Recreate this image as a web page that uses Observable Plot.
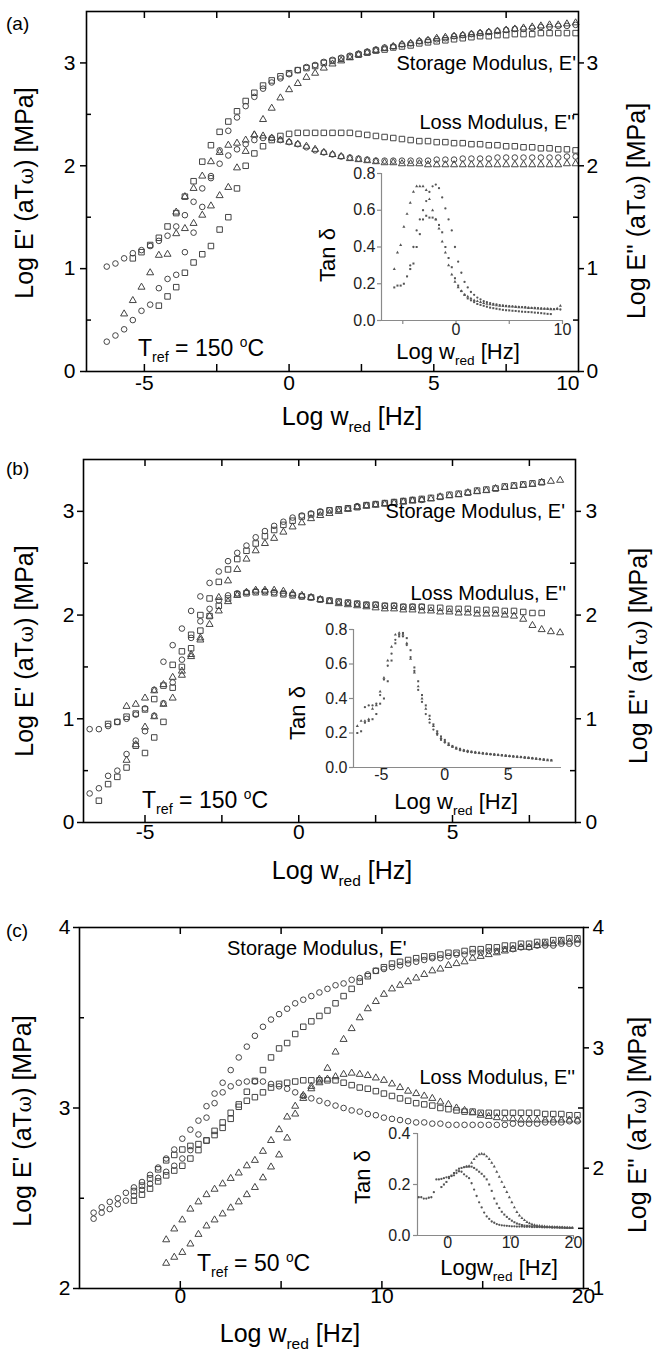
<!DOCTYPE html>
<html><head><meta charset="utf-8">
<script src="https://cdn.jsdelivr.net/npm/d3@7"></script>
<script src="https://cdn.jsdelivr.net/npm/@observablehq/plot@0.6"></script>
<style>
body{margin:0;background:#fff;}
#root{position:relative;width:653px;height:1356px;overflow:hidden;background:#fff;}
#root svg{position:absolute;left:0;}
.t{position:absolute;white-space:nowrap;line-height:1;color:#000;font-family:'Liberation Sans',Arial,Helvetica,sans-serif;}
.sub{font-size:0.62em;position:relative;top:0.42em;}
.sup{font-size:0.6em;position:relative;top:-0.62em;}
.om{font-family:'DejaVu Serif','Liberation Serif',serif;font-size:0.8em;}
</style></head>
<body><div id="root"></div>
<script>
// ---------------- DATA ----------------
// Panel (a): reduced frequency grid (log w_red, Hz) and log modulus series
const aFreq = [-6.3,-6.0,-5.7,-5.4,-5.1,-4.8,-4.5,-4.2,-3.9,-3.6,-3.3,-3.0,-2.7,-2.4,-2.1,-1.8,-1.5,-1.2,-0.9,-0.6,-0.3,0.0,0.3,0.6,0.9,1.2,1.5,1.8,2.1,2.4,2.7,3.0,3.3,3.6,3.9,4.2,4.5,4.8,5.1,5.4,5.7,6.0,6.3,6.6,6.9,7.2,7.5,7.8,8.1,8.4,8.7,9.0,9.3,9.6,9.9];
const aCircleStorage = [0.29,0.35,0.41,0.50,0.59,0.65,0.81,0.90,0.94,1.16,1.35,1.60,1.88,2.15,2.34,2.47,2.58,2.67,2.75,2.81,2.85,2.89,2.93,2.96,2.98,3.01,3.03,3.05,3.07,3.09,3.11,3.13,3.15,3.16,3.18,3.19,3.21,3.22,3.23,3.24,3.26,3.27,3.28,3.29,3.30,3.31,3.32,3.33,3.33,3.34,3.35,3.35,3.36,3.36,3.37];
const aCircleLoss = [1.02,1.05,1.10,1.15,1.18,1.22,1.27,1.32,1.41,1.52,1.65,1.78,1.90,2.02,2.10,2.16,2.21,2.25,2.27,2.27,2.25,2.23,2.21,2.18,2.15,2.13,2.11,2.09,2.08,2.07,2.06,2.05,2.05,2.05,2.05,2.05,2.05,2.05,2.06,2.06,2.06,2.07,2.07,2.07,2.07,2.08,2.08,2.08,2.08,2.08,2.08,2.08,2.08,2.09,2.09];
const aSquareStorage = [null,null,null,1.10,1.16,1.23,1.30,1.41,1.54,1.70,1.85,2.04,2.20,2.33,2.43,2.53,2.63,2.71,2.78,2.83,2.87,2.90,2.93,2.95,2.97,3.00,3.02,3.04,3.06,3.08,3.10,3.12,3.13,3.15,3.16,3.17,3.19,3.20,3.21,3.22,3.23,3.24,3.25,3.26,3.26,3.27,3.27,3.28,3.28,3.28,3.29,3.29,3.29,3.29,3.29];
const aSquareLoss = [null,null,null,null,null,null,0.64,0.73,0.82,0.96,1.06,1.14,1.22,1.38,1.50,1.78,2.00,2.12,2.19,2.25,2.29,2.31,2.32,2.32,2.32,2.32,2.32,2.32,2.32,2.31,2.30,2.29,2.28,2.27,2.26,2.25,2.24,2.24,2.23,2.23,2.22,2.22,2.21,2.21,2.20,2.20,2.19,2.19,2.18,2.18,2.17,2.17,2.16,2.16,2.15];
const aTriangleStorage = [null,null,0.56,0.69,0.82,0.96,1.13,1.14,1.34,1.39,1.44,1.52,1.61,1.71,1.79,1.98,2.14,2.30,2.45,2.56,2.66,2.74,2.80,2.86,2.90,2.95,2.99,3.02,3.05,3.08,3.10,3.12,3.14,3.16,3.18,3.19,3.21,3.22,3.24,3.25,3.26,3.27,3.28,3.29,3.30,3.31,3.32,3.33,3.34,3.35,3.36,3.37,3.37,3.38,3.39];
const aTriangleLoss = [null,null,null,null,null,null,null,null,1.55,1.70,1.78,1.90,2.04,2.13,2.20,2.22,2.25,2.30,2.29,2.27,2.25,2.23,2.21,2.19,2.16,2.13,2.11,2.09,2.07,2.06,2.05,2.04,2.03,2.03,2.02,2.02,2.02,2.01,2.01,2.01,2.01,2.01,2.01,2.01,2.01,2.01,2.01,2.01,2.01,2.01,2.01,2.01,2.01,2.02,2.02];
// Panel (a) inset: tan delta
const aInsetFreq = [-5.8,-5.5,-5.2,-4.9,-4.6,-4.3,-4.0,-3.7,-3.4,-3.1,-2.8,-2.5,-2.2,-1.9,-1.6,-1.3,-1.0,-0.7,-0.4,-0.1,0.2,0.5,0.8,1.1,1.4,1.7,2.0,2.3,2.6,2.9,3.2,3.5,3.8,4.1,4.4,4.7,5.0,5.3,5.6,5.9,6.2,6.5,6.8,7.1,7.4,7.7,8.0,8.3,8.6,8.9,9.2,9.5,9.8];
const aTanTriangle = [0.28,0.37,0.41,0.51,0.58,0.64,0.70,0.73,0.73,0.73,0.71,0.66,0.60,0.55,0.50,0.43,0.37,0.30,0.25,0.21,0.18,0.16,0.14,0.13,0.12,0.11,0.105,0.10,0.095,0.09,0.088,0.085,0.082,0.08,0.078,0.077,0.076,0.075,0.073,0.072,0.071,0.07,0.068,0.067,0.066,0.065,0.064,0.063,0.062,0.061,0.06,0.065,0.08];
const aTanSquare = [0.18,0.19,0.19,0.20,0.24,0.28,0.31,0.40,0.47,0.55,0.57,0.56,0.56,0.55,0.52,0.48,0.40,0.34,0.29,0.23,0.19,0.16,0.14,0.12,0.11,0.10,0.09,0.085,0.08,0.075,0.07,0.067,0.064,0.061,0.058,0.056,0.055,0.053,0.052,0.05,0.048,0.047,0.046,0.045,0.043,0.042,0.04,0.038,0.036,0.035,null,null,null];
const aTanCircle = [null,null,null,null,null,0.30,0.40,0.49,0.55,0.60,0.65,0.70,0.73,0.74,0.72,0.67,0.61,0.55,0.49,0.40,0.32,0.26,0.21,0.18,0.155,0.14,0.125,0.115,0.105,0.10,0.095,0.09,0.087,0.084,0.082,0.08,0.078,0.077,0.075,0.074,0.073,0.072,0.07,0.069,0.068,0.067,0.066,0.065,0.064,0.063,0.062,0.062,0.06];

// Panel (b)
const bFreq = [-6.8,-6.5,-6.2,-5.9,-5.6,-5.3,-5.0,-4.7,-4.4,-4.1,-3.8,-3.5,-3.2,-2.9,-2.6,-2.3,-2.0,-1.7,-1.4,-1.1,-0.8,-0.5,-0.2,0.1,0.4,0.7,1.0,1.3,1.6,1.9,2.2,2.5,2.8,3.1,3.4,3.7,4.0,4.3,4.6,4.9,5.2,5.5,5.8,6.1,6.4,6.7,7.0,7.3,7.6,7.9,8.2,8.5];
const bCircleStorage = [0.90,0.90,0.93,0.97,1.00,1.04,1.10,1.28,1.55,1.71,1.87,2.04,2.18,2.31,2.42,2.52,2.60,2.67,2.75,2.81,2.86,2.90,2.94,2.96,2.98,3.00,3.01,3.02,3.03,3.05,3.06,3.07,3.08,3.09,3.10,3.11,3.11,null,null,null,null,null,null,null,null,null,null,null,null,null,null,null];
const bCircleLoss = [0.28,0.33,0.45,0.50,0.66,0.79,0.88,1.03,1.15,1.35,1.57,1.78,1.94,2.06,2.14,2.19,2.21,2.22,2.23,2.23,2.22,2.21,2.20,2.18,2.17,2.15,2.14,2.13,2.12,2.11,2.10,2.10,2.09,2.09,2.08,2.08,2.08,null,null,null,null,null,null,null,null,null,null,null,null,null,null,null];
const bSquareStorage = [null,null,0.95,0.97,1.02,1.05,1.09,1.19,1.32,1.52,1.65,1.81,2.00,2.16,2.32,2.44,2.54,2.62,2.69,2.76,2.82,2.87,2.91,2.95,2.97,2.99,3.01,3.02,3.03,3.04,3.06,3.07,3.08,3.09,3.10,3.11,3.12,3.13,3.14,3.16,3.17,3.18,3.20,3.21,3.22,3.24,3.25,3.26,3.27,3.28,null,null];
const bSquareLoss = [null,0.21,0.37,0.44,0.53,0.74,0.67,0.82,0.97,1.30,1.50,1.68,1.85,1.99,2.09,2.16,2.20,2.21,2.22,2.22,2.21,2.20,2.19,2.18,2.17,2.15,2.14,2.13,2.12,2.11,2.10,2.10,2.09,2.09,2.08,2.08,2.08,2.07,2.07,2.06,2.06,2.06,2.05,2.05,2.05,2.04,2.04,2.03,2.02,2.02,null,null];
const bTriangleStorage = [null,null,null,null,1.12,1.14,1.20,1.27,1.33,1.40,1.46,1.62,1.78,1.99,2.17,2.33,2.44,2.54,2.62,2.69,2.74,2.80,2.85,2.89,2.93,2.96,2.98,3.00,3.02,3.04,3.05,3.06,3.07,3.08,3.09,3.10,3.11,3.12,3.14,3.15,3.16,3.18,3.19,3.20,3.22,3.23,3.24,3.25,3.26,3.28,3.29,3.30];
const bTriangleLoss = [null,null,null,null,0.60,0.75,0.92,1.02,1.14,1.20,1.42,1.60,1.76,1.91,2.04,2.13,2.19,2.22,2.24,2.24,2.24,2.23,2.21,2.19,2.17,2.15,2.13,2.11,2.10,2.09,2.08,2.07,2.06,2.06,2.05,2.05,2.04,2.04,2.03,2.03,2.02,2.02,2.01,2.01,2.01,2.00,1.99,1.96,1.90,1.86,1.84,1.83];
const bInsetFreq = [-6.9,-6.6,-6.3,-6.0,-5.7,-5.4,-5.1,-4.8,-4.5,-4.2,-3.9,-3.6,-3.3,-3.0,-2.7,-2.4,-2.1,-1.8,-1.5,-1.2,-0.9,-0.6,-0.3,0.0,0.3,0.6,0.9,1.2,1.5,1.8,2.1,2.4,2.7,3.0,3.3,3.6,3.9,4.2,4.5,4.8,5.1,5.4,5.7,6.0,6.3,6.6,6.9,7.2,7.5,7.8,8.1,8.4];
const bTanTriangle = [0.24,0.27,0.27,0.28,0.34,0.36,0.44,0.52,0.62,0.70,0.77,0.78,0.77,0.72,0.63,0.55,0.47,0.40,0.34,0.28,0.24,0.20,0.17,0.15,0.13,0.12,0.11,0.105,0.10,0.095,0.09,0.088,0.085,0.082,0.08,0.077,0.075,0.072,0.07,0.068,0.066,0.064,0.062,0.06,0.058,0.055,0.053,0.05,0.048,0.045,0.042,0.04];
const bTanSquare = [0.20,0.21,0.26,0.27,0.28,0.31,0.37,0.40,0.50,0.62,0.72,0.76,0.78,0.75,0.68,0.58,0.50,0.42,0.36,0.30,0.25,0.21,0.18,0.16,0.14,0.125,0.115,0.108,0.10,0.096,0.092,0.088,0.085,0.083,0.08,0.078,0.076,0.074,0.072,0.07,0.067,0.065,0.063,0.061,0.059,0.057,0.054,0.052,0.049,0.047,0.045,0.043];
const bTanCircle = [null,null,0.35,0.36,0.36,0.37,0.42,0.51,0.59,0.66,0.74,0.77,0.76,0.71,0.64,0.56,0.45,0.38,0.31,0.26,0.22,0.19,0.16,0.145,0.13,0.12,0.11,0.10,0.095,0.09,0.088,0.085,0.083,0.08,0.078,0.076,0.074,0.072,0.07,0.067,0.065,0.063,0.061,0.059,0.057,0.055,0.053,0.05,0.047,0.045,null,null];

// Panel (c): storage on left axis (2-4), loss on right axis (1-4)
const cFreq = [-4.3,-3.9,-3.5,-3.1,-2.7,-2.3,-1.9,-1.5,-1.1,-0.7,-0.3,0.1,0.5,0.9,1.3,1.7,2.1,2.5,2.9,3.3,3.7,4.1,4.5,4.9,5.3,5.7,6.1,6.5,6.9,7.3,7.7,8.1,8.5,8.9,9.3,9.7,10.1,10.5,10.9,11.3,11.7,12.1,12.5,12.9,13.3,13.7,14.1,14.5,14.9,15.3,15.7,16.1,16.5,16.9,17.3,17.7,18.1,18.5,18.9,19.3,19.7];
const cCircleStorage = [2.42,2.45,2.48,2.50,2.53,2.56,2.59,2.63,2.67,2.72,2.77,2.83,2.88,2.93,3.01,3.08,3.14,3.21,3.28,3.34,3.40,3.45,3.49,3.52,3.55,3.58,3.60,3.62,3.64,3.66,3.68,3.69,3.71,3.72,3.74,3.76,3.77,3.78,3.79,3.80,3.81,3.82,3.83,3.83,3.84,3.85,3.85,3.86,3.86,3.87,3.87,3.88,3.88,3.89,3.89,3.90,3.90,3.90,3.91,3.91,3.91];
const cCircleLoss = [1.58,1.63,1.66,1.70,1.73,1.77,1.82,1.87,1.92,1.97,2.02,2.08,2.15,2.28,2.42,2.54,2.63,2.68,2.71,2.72,2.72,2.72,2.70,2.68,2.66,2.63,2.60,2.58,2.56,2.54,2.52,2.50,2.48,2.47,2.45,2.44,2.42,2.41,2.40,2.39,2.38,2.38,2.37,2.37,2.36,2.36,2.36,2.36,2.36,2.36,2.36,2.36,2.37,2.37,2.37,2.37,2.38,2.38,2.38,2.39,2.39];
const cSquareStorage = [null,null,null,null,null,2.54,2.57,2.61,2.66,2.71,2.74,2.77,2.79,2.80,2.82,2.85,2.89,2.94,3.02,3.09,3.15,3.21,3.28,3.33,3.36,3.41,3.45,3.48,3.51,3.54,3.58,3.62,3.66,3.70,3.73,3.76,3.78,3.80,3.81,3.82,3.83,3.84,3.84,3.85,3.86,3.86,3.87,3.88,3.88,3.89,3.89,3.90,3.90,3.91,3.91,3.92,3.92,3.93,3.93,3.94,3.94];
const cSquareLoss = [null,null,null,null,null,1.73,1.78,1.83,1.89,1.94,1.98,2.02,2.08,2.15,2.23,2.31,2.38,2.46,2.51,2.56,2.59,2.63,2.67,2.70,2.71,2.72,2.73,2.73,2.73,2.73,2.73,2.71,2.69,2.67,2.66,2.64,2.62,2.60,2.58,2.56,2.54,2.53,2.52,2.50,2.49,2.48,2.47,2.47,2.46,2.46,2.46,2.46,2.46,2.46,2.46,2.46,2.45,2.45,2.45,2.44,2.44];
const cTriangleStorage = [null,null,null,null,null,null,null,null,null,2.27,2.33,2.38,2.44,2.48,2.52,2.55,2.58,2.61,2.64,2.68,2.71,2.76,2.82,2.88,2.95,3.01,3.07,3.12,3.16,3.22,3.31,3.38,3.44,3.50,3.55,3.59,3.63,3.66,3.68,3.70,3.72,3.74,3.76,3.77,3.79,3.80,3.81,3.83,3.84,3.85,3.86,3.87,3.88,3.89,3.89,3.90,3.91,3.91,3.92,3.92,3.93];
const cTriangleLoss = [null,null,null,null,null,null,null,null,null,1.21,1.26,1.30,1.37,1.45,1.52,1.57,1.62,1.67,1.72,1.78,1.84,1.92,2.01,2.11,2.25,2.45,2.58,2.66,2.71,2.74,2.76,2.78,2.79,2.78,2.77,2.75,2.73,2.70,2.67,2.64,2.62,2.60,2.58,2.55,2.53,2.50,2.48,2.46,2.44,2.43,2.42,2.41,2.41,2.40,2.40,2.40,2.40,2.40,2.40,2.40,2.40];
const cInsetFreq = [-4.6,-4.2,-3.8,-3.4,-3.0,-2.6,-2.2,-1.8,-1.4,-1.0,-0.6,-0.2,0.2,0.6,1.0,1.4,1.8,2.2,2.6,3.0,3.4,3.8,4.2,4.6,5.0,5.4,5.8,6.2,6.6,7.0,7.4,7.8,8.2,8.6,9.0,9.4,9.8,10.2,10.6,11.0,11.4,11.8,12.2,12.6,13.0,13.4,13.8,14.2,14.6,15.0,15.4,15.8,16.2,16.6,17.0,17.4,17.8,18.2,18.6,19.0,19.4,19.8];
const cTanCircle = [0.15,0.15,0.145,0.145,0.148,0.15,0.17,0.22,0.22,0.222,0.225,0.228,0.23,0.233,0.236,0.245,0.252,0.25,0.24,0.232,0.225,0.205,0.18,0.155,0.13,0.11,0.09,0.075,0.065,0.055,0.05,0.045,0.042,0.04,0.039,0.038,0.037,0.036,0.036,0.035,0.035,0.035,0.034,0.034,0.034,0.033,0.033,0.033,0.033,0.032,0.032,0.032,0.032,0.031,0.031,0.031,0.031,0.031,0.03,0.03,0.03,0.03];
const cTanSquare = [null,null,null,null,null,null,null,null,null,0.19,0.20,0.21,0.225,0.235,0.245,0.255,0.262,0.265,0.268,0.27,0.27,0.27,0.265,0.258,0.25,0.242,0.232,0.22,0.2,0.175,0.145,0.125,0.108,0.093,0.082,0.073,0.065,0.058,0.052,0.047,0.044,0.041,0.039,0.038,0.037,0.036,0.035,0.035,0.034,0.034,0.033,0.033,0.033,0.032,0.032,0.032,0.031,0.031,0.031,0.03,0.03,0.03];
const cTanTriangle = [null,null,null,null,null,null,null,null,null,null,null,null,null,null,null,null,null,null,null,0.27,0.272,0.285,0.30,0.31,0.318,0.32,0.318,0.31,0.30,0.285,0.27,0.25,0.23,0.21,0.19,0.17,0.15,0.13,0.11,0.092,0.078,0.068,0.06,0.053,0.048,0.044,0.041,0.039,0.038,0.037,0.036,0.035,0.034,0.034,0.033,0.033,0.032,0.032,0.031,0.031,0.03,0.03];

// ---------------- DRAWING ----------------
const W = 653;
const FONT = "'Liberation Sans', Arial, Helvetica, sans-serif";
const INK = "#444";
const SYM_R = {circle: 2.8, square: 3.1, triangle: 2.6};
const root = document.getElementById("root");

function rows(grid, ys) {
  const out = [];
  for (let i = 0; i < grid.length; i++) if (ys[i] != null) out.push({x: grid[i], y: ys[i]});
  return out;
}
function openDots(grid, list) {
  return list.map(([ys, sym]) => Plot.dot(rows(grid, ys), {x: "x", y: "y", symbol: sym, r: SYM_R[sym], stroke: INK, strokeWidth: 1, fill: "none"}));
}
function smallDots(grid, list) {
  return list.map(([ys, sym]) => Plot.dot(rows(grid, ys), {x: "x", y: "y", symbol: sym, r: 1.15, fill: "#555", stroke: "none"}));
}
function place(svg, top) { svg.style.top = top + "px"; root.appendChild(svg); }

function layer(P, marks) {
  return Plot.plot({
    width: W, height: P.h,
    marginLeft: P.fl, marginRight: W - P.fr, marginTop: P.ft - P.top, marginBottom: P.top + P.h - P.fb,
    x: {domain: P.xd, axis: null}, y: {domain: P.yd, axis: null},
    style: {background: "transparent", fontFamily: FONT, overflow: "visible", color: "#000"},
    marks
  });
}

function mainMarks(P, opt) {
  const iw = P.fr - P.fl, ih = P.fb - P.ft;
  const k = {stroke: "#000", strokeWidth: 1.5};
  const m = [];
  if (opt.xTicks) {
    m.push(Plot.tickX(opt.xTicks, {x: d => d, insetTop: ih - 7, ...k}));
    m.push(Plot.tickX(opt.xTicks, {x: d => d, insetBottom: ih - 7, ...k}));
    m.push(Plot.text(opt.xLabels, {x: d => d, text: d => String(d), frameAnchor: "bottom", dy: opt.xdy, fontSize: 21}));
    if (opt.xLabelsEnd) m.push(Plot.text(opt.xLabelsEnd, {x: d => d, text: d => String(d), frameAnchor: "bottom", textAnchor: "end", dx: 1, dy: opt.xdy, fontSize: 21}));
  }
  if (opt.left) {
    m.push(Plot.tickY(opt.left.major, {y: d => d, insetRight: iw - 6, dx: -6, ...k}));
    m.push(Plot.tickY(opt.left.minor, {y: d => d, insetRight: iw - 5, ...k}));
    m.push(Plot.text(opt.left.major, {y: d => d, text: d => String(d), frameAnchor: "left", textAnchor: "end", dx: opt.left.dx, fontSize: 21}));
  }
  if (opt.right) {
    m.push(Plot.tickY(opt.right.major, {y: d => d, insetLeft: iw - 6, dx: 6, ...k}));
    m.push(Plot.tickY(opt.right.minor, {y: d => d, insetLeft: iw - 5, ...k}));
    m.push(Plot.text(opt.right.major, {y: d => d, text: d => String(d), frameAnchor: "right", textAnchor: "start", dx: opt.right.dx, fontSize: 21}));
  }
  m.push(...opt.dots);
  if (opt.frame) m.push(Plot.frame({stroke: "#000", strokeWidth: 1.6}));
  return m;
}

function insetMarks(P, opt) {
  const iw = P.fr - P.fl, ih = P.fb - P.ft;
  const g = {stroke: "#8a8a8a", strokeWidth: 1.2};
  const fmt = d3.format(".1f");
  return [
    Plot.ruleY([P.yd[0]], g),
    Plot.ruleX([P.xd[0]], g),
    Plot.tickY(opt.yTicks, {y: d => d, insetRight: iw - 4, dx: -4, ...g}),
    Plot.tickX(opt.xTicks, {x: d => d, insetTop: ih - 4, dy: 4, ...g}),
    Plot.text(opt.yTicks, {y: d => d, text: d => fmt(d), frameAnchor: "left", textAnchor: "end", dx: opt.ydx, fontSize: 16, fill: "#222"}),
    Plot.text(opt.xLabels, {x: d => d, text: d => String(d), frameAnchor: "bottom", dy: opt.xdy, fontSize: 16, fill: "#222"}),
    ...opt.dots
  ];
}

function label(html, x, y, size, {rot = false, align = "center"} = {}) {
  const d = document.createElement("div");
  d.className = "t";
  d.innerHTML = html;
  d.style.fontSize = size + "px";
  d.style.left = x + "px";
  d.style.top = y + "px";
  const tx = align === "center" ? "-50%" : align === "right" ? "-100%" : "0";
  d.style.transform = `translate(${tx},-50%)` + (rot ? " rotate(-90deg)" : "");
  root.appendChild(d);
}

// ---- Panel (a)
const PA = {top: 0, h: 440, fl: 86, fr: 578, ft: 11, fb: 371, xd: [-7, 10], yd: [0, 3.5]};
place(layer(PA, mainMarks(PA, {
  xTicks: [-5, -2.5, 0, 2.5, 5, 7.5], xLabels: [-5, 0, 5], xLabelsEnd: [10], xdy: 18,
  left: {major: [0, 1, 2, 3], minor: [0.5, 1.5, 2.5], dx: -11},
  right: {major: [0, 1, 2, 3], minor: [0.5, 1.5, 2.5], dx: 8},
  frame: true,
  dots: openDots(aFreq, [[aCircleStorage, "circle"], [aCircleLoss, "circle"], [aSquareStorage, "square"], [aSquareLoss, "square"], [aTriangleStorage, "triangle"], [aTriangleLoss, "triangle"]])
})), PA.top);
const PAi = {top: 0, h: 440, fl: 381, fr: 562, ft: 173, fb: 320, xd: [-7, 10], yd: [0, 0.8]};
place(layer(PAi, insetMarks(PAi, {
  yTicks: [0, 0.2, 0.4, 0.6, 0.8], xTicks: [-5, 0, 5, 10], xLabels: [0, 10], xdy: 14, ydx: -6,
  dots: smallDots(aInsetFreq, [[aTanTriangle, "triangle"], [aTanSquare, "square"], [aTanCircle, "circle"]])
})), PAi.top);

// ---- Panel (b)
const PB = {top: 440, h: 445, fl: 83, fr: 575, ft: 459, fb: 822, xd: [-7, 9], yd: [0, 3.5]};
place(layer(PB, mainMarks(PB, {
  xTicks: [-5, -2.5, 0, 2.5, 5, 7.5], xLabels: [-5, 0, 5], xdy: 16,
  left: {major: [0, 1, 2, 3], minor: [0.5, 1.5, 2.5], dx: -9},
  right: {major: [0, 1, 2, 3], minor: [0.5, 1.5, 2.5], dx: 10},
  frame: true,
  dots: openDots(bFreq, [[bCircleStorage, "circle"], [bCircleLoss, "circle"], [bSquareStorage, "square"], [bSquareLoss, "square"], [bTriangleStorage, "triangle"], [bTriangleLoss, "triangle"]])
})), PB.top);
const PBi = {top: 440, h: 445, fl: 353, fr: 561, ft: 629, fb: 767, xd: [-7.2, 9.2], yd: [0, 0.8]};
place(layer(PBi, insetMarks(PBi, {
  yTicks: [0, 0.2, 0.4, 0.6, 0.8], xTicks: [-5, 0, 5], xLabels: [-5, 0, 5], xdy: 12, ydx: -6,
  dots: smallDots(bInsetFreq, [[bTanTriangle, "triangle"], [bTanSquare, "square"], [bTanCircle, "circle"]])
})), PBi.top);

// ---- Panel (c)
const PC = {top: 885, h: 471, fl: 79, fr: 583, ft: 927, fb: 1288, xd: [-5, 20], yd: [2, 4]};
place(layer(PC, mainMarks(PC, {
  xTicks: [0, 5, 10, 15], xLabels: [0, 10, 20], xdy: 14,
  left: {major: [2, 3, 4], minor: [2.5, 3.5], dx: -9},
  frame: true,
  dots: openDots(cFreq, [[cCircleStorage, "circle"], [cSquareStorage, "square"], [cTriangleStorage, "triangle"]])
})), PC.top);
const PCr = {...PC, yd: [1, 4]};
place(layer(PCr, mainMarks(PCr, {
  right: {major: [1, 2, 3, 4], minor: [1.5, 2.5, 3.5], dx: 9},
  frame: false,
  dots: openDots(cFreq, [[cCircleLoss, "circle"], [cSquareLoss, "square"], [cTriangleLoss, "triangle"]])
})), PCr.top);
const PCi = {top: 885, h: 471, fl: 417, fr: 573, ft: 1133, fb: 1235, xd: [-4.8, 20], yd: [0, 0.4]};
place(layer(PCi, insetMarks(PCi, {
  yTicks: [0, 0.2, 0.4], xTicks: [0, 10, 20], xLabels: [0, 10, 20], xdy: 12, ydx: -7,
  dots: smallDots(cInsetFreq, [[cTanCircle, "circle"], [cTanSquare, "square"], [cTanTriangle, "triangle"]])
})), PCi.top);

// ---------------- TEXT ----------------
const yTitleL = "Log E' (aT<span class='om'>ω</span>) [MPa]";
const yTitleR = "Log E'' (aT<span class='om'>ω</span>) [MPa]";
const xTitle = "Log w<span class='sub'>red</span> [Hz]";

label("(a)", 6, 23, 19, {align: "left"});
label(yTitleL, 24, 193, 25, {rot: true});
label(yTitleR, 636, 211, 25, {rot: true});
label(xTitle, 352, 416, 25);
label("Storage Modulus, E'", 576, 63, 20, {align: "right"});
label("Loss Modulus, E''", 575, 122, 20, {align: "right"});
label("T<span class='sub'>ref</span> = 150 <span class='sup'>o</span>C", 138, 348, 23, {align: "left"});
label("Tan δ", 328, 255, 22, {rot: true});
label(xTitle, 458, 352, 22);

label("(b)", 6, 468, 19, {align: "left"});
label(yTitleL, 24, 651, 25, {rot: true});
label(yTitleR, 638, 656, 25, {rot: true});
label(xTitle, 342, 870, 25);
label("Storage Modulus, E'", 565, 511, 20, {align: "right"});
label("Loss Modulus, E''", 566, 593, 20, {align: "right"});
label("T<span class='sub'>ref</span> = 150 <span class='sup'>o</span>C", 142, 800, 23, {align: "left"});
label("Tan δ", 298, 713, 22, {rot: true});
label(xTitle, 456, 802, 22);

label("(c)", 6, 930, 19, {align: "left"});
label(yTitleL, 22, 1121, 25, {rot: true});
label(yTitleR, 637, 1125, 25, {rot: true});
label(xTitle, 290, 1333, 25);
label("Storage Modulus, E'", 227, 948, 20, {align: "left"});
label("Loss Modulus, E''", 575, 1077, 20, {align: "right"});
label("T<span class='sub'>ref</span> = 50 <span class='sup'>o</span>C", 197, 1263, 23, {align: "left"});
label("Tan δ", 363, 1177, 22, {rot: true});
label("Logw<span class='sub'>red</span> [Hz]", 499, 1268, 22);
</script>
</body></html>
